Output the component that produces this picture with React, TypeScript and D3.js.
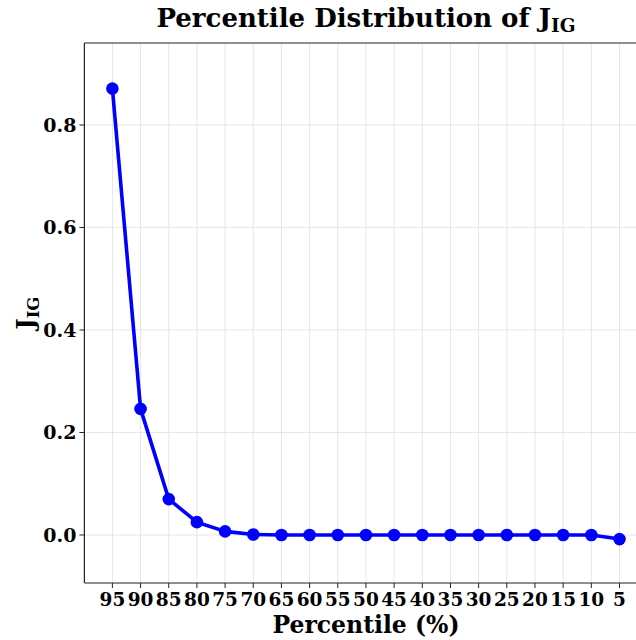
import React from "react";
import * as d3 from "d3";

const percentiles = [95, 90, 85, 80, 75, 70, 65, 60, 55, 50, 45, 40, 35, 30, 25, 20, 15, 10, 5];
const values = [0.871, 0.246, 0.070, 0.025, 0.007, 0.001, 0.0, 0.0, 0.0, 0.0, 0.0, 0.0, 0.0, 0.0, 0.0, 0.0, 0.0, 0.0, -0.008];
const yTicks = [0.0, 0.2, 0.4, 0.6, 0.8];

const W = 636, H = 640;
const left = 84.4, top = 43, bottom = 583;
const font = "'DejaVu Serif', serif";

export default function App() {
  const n = percentiles.length;
  const step = (619.5 - 112.4) / (n - 1);
  const pad = (112.4 - left) / step;
  const x = d3.scaleLinear().domain([-pad, n - 1 + pad]).range([left, left + step * (n - 1 + 2 * pad)]);
  const y = d3.scaleLinear().domain([-0.0937, 0.96]).range([bottom, top]);
  const right = x(n - 1 + pad);
  const line = d3.line<number>().x((_, i) => x(i)).y(d => y(d));
  const cx = (left + right) / 2;
  return (
    <svg width={W} height={H} style={{ position: "absolute", left: 0, top: 0, background: "#fff" }}>
      <rect x={0} y={0} width={W} height={H} fill="#fff" />
      {percentiles.map((p, i) => (
        <line key={"vg" + i} x1={x(i)} x2={x(i)} y1={top} y2={bottom} stroke="#e6e6e6" strokeWidth={1} />
      ))}
      {yTicks.map(t => (
        <line key={"hg" + t} x1={left} x2={right} y1={y(t)} y2={y(t)} stroke="#e6e6e6" strokeWidth={1} />
      ))}
      <path d={line(values) || ""} fill="none" stroke="#0000ff" strokeWidth={3.6} strokeLinejoin="round" />
      {values.map((v, i) => (
        <circle key={"c" + i} cx={x(i)} cy={y(v)} r={6.3} fill="#0000ff" />
      ))}
      <line x1={left} x2={left} y1={top} y2={bottom} stroke="#222" strokeWidth={1.2} />
      <line x1={left} x2={right} y1={bottom} y2={bottom} stroke="#222" strokeWidth={1.2} />
      <line x1={left} x2={right} y1={top} y2={top} stroke="#222" strokeWidth={1.2} />
      <line x1={right} x2={right} y1={top} y2={bottom} stroke="#222" strokeWidth={1.2} />
      {percentiles.map((p, i) => (
        <g key={"xt" + i}>
          <line x1={x(i)} x2={x(i)} y1={bottom} y2={bottom + 5} stroke="#222" strokeWidth={1} />
          <text x={x(i)} y={bottom + 23} textAnchor="middle" fontFamily={font} fontWeight="bold" fontSize={18.5}>{p}</text>
        </g>
      ))}
      {yTicks.map(t => (
        <g key={"yt" + t}>
          <line x1={left - 5} x2={left} y1={y(t)} y2={y(t)} stroke="#222" strokeWidth={1} />
          <text x={left - 8} y={y(t)} dy="0.35em" textAnchor="end" fontFamily={font} fontWeight="bold" fontSize={19}>{t.toFixed(1)}</text>
        </g>
      ))}
      <text x={cx} y={27} textAnchor="middle" fontFamily={font} fontWeight="bold" fontSize={26}>
        Percentile Distribution of J<tspan fontSize={18.5} dy={5}>IG</tspan>
      </text>
      <text x={366} y={633} textAnchor="middle" fontFamily={font} fontWeight="bold" fontSize={23.5}>Percentile (%)</text>
      <text transform={`translate(34, ${(top + bottom) / 2}) rotate(-90)`} textAnchor="middle" fontFamily={font} fontWeight="bold" fontSize={23.5}>
        J<tspan fontSize={16.5} dy={5}>IG</tspan>
      </text>
    </svg>
  );
}
